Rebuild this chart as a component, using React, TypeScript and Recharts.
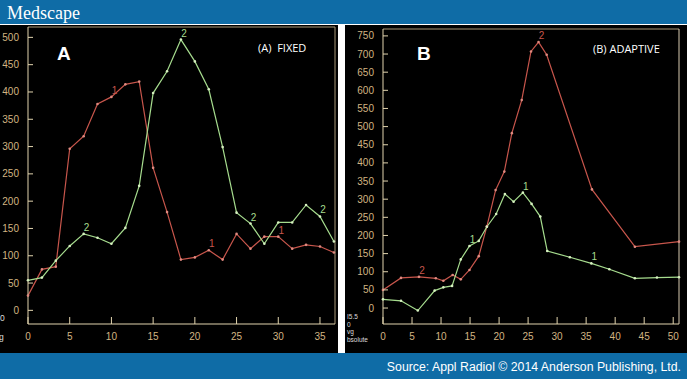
import React from "react";
import { LineChart, Line, XAxis, YAxis, ReferenceLine } from "recharts";

// Panel A (fixed): both curves share the same sampling times
const aTimes = [0, 1.67, 3.33, 5, 6.67, 8.33, 10, 11.67, 13.33, 15, 16.67, 18.33, 20, 21.67, 23.33, 25, 26.67, 28.33, 30, 31.67, 33.33, 35, 36.67];
const aCurve1 = [27, 75, 80, 296, 319, 378, 391, 414, 419, 261, 180, 93, 97, 110, 93, 140, 113, 135, 135, 113, 120, 117, 106];
const aCurve2 = [55, 60, 91, 118, 140, 133, 122, 151, 228, 398, 438, 496, 456, 405, 299, 179, 159, 122, 161, 161, 193, 172, 126];
const aCurve1Labels = [6, 13, 18];
const aCurve2Labels = [4, 11, 16, 21];
const aXTicks = [0, 5, 10, 15, 20, 25, 30, 35];
const aYTicks = [0, 50, 100, 150, 200, 250, 300, 350, 400, 450, 500];

// Panel B (adaptive): irregular sampling, one time list per curve
const bTimes2 = [0, 3.1, 6.2, 9.1, 10.4, 12, 13.4, 14.9, 16.5, 17.9, 19.4, 20.9, 22.2, 23.9, 25.5, 26.8, 28.2, 36, 43.4, 51];
const bCurve2 = [50, 83, 86, 82, 75, 91, 79, 105, 143, 225, 325, 376, 482, 573, 707, 733, 698, 327, 169, 183];
const bTimes1 = [0, 3.1, 6, 8.9, 10.4, 11.9, 13.4, 14.9, 16.5, 17.9, 19.5, 21, 22.5, 24.1, 25.6, 27.1, 28.3, 32.2, 35.9, 39, 43.4, 47.2, 51];
const bCurve1 = [24, 20, -7, 48, 57, 61, 134, 171, 185, 224, 259, 314, 293, 318, 287, 252, 157, 140, 123, 107, 82, 84, 85];
const bCurve2Labels = [2, 15];
const bCurve1Labels = [7, 13, 18];
const bXTicks = [0, 5, 10, 15, 20, 25, 30, 35, 40, 45, 50];
const bYTicks = [0, 50, 100, 150, 200, 250, 300, 350, 400, 450, 500, 550, 600, 650, 700, 750];

// leftover captions cut off at the bottom-left of each panel
const aStub = ["0", "g"];
const bStub = ["I5.5", "0", "vg", "bsolute"];

const RED = "#c8564c";
const GREEN = "#a6dc8e";
const TICK_TEXT = "#d2b482";
const AXIS = "#e2d4ae";
const FRAME = "#a89878";
const BLUE = "#0f6ca6";

const dataA = aTimes.map((t, i) => ({ t, c1: aCurve1[i], c2: aCurve2[i] }));
const dataB2 = bTimes2.map((t, i) => ({ t, v: bCurve2[i] }));
const dataB1 = bTimes1.map((t, i) => ({ t, v: bCurve1[i] }));

const YTick = (p: any) => (
  <g>
    <line x1={p.x} x2={p.x + 5} y1={p.y} y2={p.y} stroke={AXIS} strokeWidth={1} />
    <text x={p.x - 9} y={p.y} dy={3.5} textAnchor="end" fill={TICK_TEXT} fontSize={10} fontFamily="Liberation Sans, Arial, sans-serif">
      {p.payload.value}
    </text>
  </g>
);

const XTick = (p: any) => (
  <g>
    <line x1={p.x} x2={p.x} y1={p.y} y2={p.y - 7} stroke={AXIS} strokeWidth={1} />
    <text x={p.x} y={p.y + 16} textAnchor="middle" fill={TICK_TEXT} fontSize={10} fontFamily="Liberation Sans, Arial, sans-serif">
      {p.payload.value}
    </text>
  </g>
);

const curveLabel = (idx: number[], text: string, color: string) => (p: any) =>
  idx.includes(p.index) ? (
    <text x={p.x + 3} y={p.y - 3} textAnchor="middle" fill={color} fontSize={10} fontFamily="Liberation Sans, Arial, sans-serif">
      {text}
    </text>
  ) : (
    <g />
  );

const dot = (color: string) => ({ r: 1.3, fill: color, stroke: "none" });

const PanelA = () => (
  <LineChart width={338} height={328} data={dataA} margin={{ top: 2, right: 3, bottom: 0, left: 0 }}>
    <XAxis dataKey="t" type="number" domain={[0, 36.8]} ticks={aXTicks} height={29} axisLine={{ stroke: AXIS }} tickLine={false} tickSize={0} tickMargin={0} tick={(p: any) => <XTick {...p} />} interval={0} />
    <YAxis type="number" domain={[-25, 519]} ticks={aYTicks} width={28} axisLine={{ stroke: AXIS }} tickLine={false} tickSize={0} tickMargin={0} tick={(p: any) => <YTick {...p} />} interval={0} />
    <ReferenceLine y={519} stroke={FRAME} ifOverflow="visible" />
    <ReferenceLine x={36.8} stroke={FRAME} ifOverflow="visible" />
    <Line dataKey="c1" stroke={RED} strokeWidth={1.2} dot={dot("#e08a80")} isAnimationActive={false} label={curveLabel(aCurve1Labels, "1", RED)} />
    <Line dataKey="c2" stroke={GREEN} strokeWidth={1.2} dot={dot("#d6f0c0")} isAnimationActive={false} label={curveLabel(aCurve2Labels, "2", GREEN)} />
  </LineChart>
);

const PanelB = () => (
  <LineChart width={342} height={328} margin={{ top: 4, right: 8, bottom: 0, left: 0 }}>
    <XAxis dataKey="t" type="number" domain={[0, 51]} ticks={bXTicks} height={29} axisLine={{ stroke: AXIS }} tickLine={false} tickSize={0} tickMargin={0} tick={(p: any) => <XTick {...p} />} interval={0} />
    <YAxis type="number" domain={[-44, 769]} ticks={bYTicks} width={38} axisLine={{ stroke: AXIS }} tickLine={false} tickSize={0} tickMargin={0} tick={(p: any) => <YTick {...p} />} interval={0} />
    <ReferenceLine y={769} stroke={FRAME} ifOverflow="visible" />
    <ReferenceLine x={51} stroke="#d8cab0" ifOverflow="visible" />
    <Line data={dataB2} dataKey="v" stroke={RED} strokeWidth={1.2} dot={dot("#e08a80")} isAnimationActive={false} label={curveLabel(bCurve2Labels, "2", RED)} />
    <Line data={dataB1} dataKey="v" stroke={GREEN} strokeWidth={1.2} dot={dot("#d6f0c0")} isAnimationActive={false} label={curveLabel(bCurve1Labels, "1", GREEN)} />
  </LineChart>
);

export default function App() {
  return (
    <div style={{ position: "absolute", left: 0, top: 0, width: 687, height: 379, background: "#fff", overflow: "hidden" }}>
      <div style={{ position: "absolute", left: 0, top: 0, width: 687, height: 24, background: BLUE }} />
      <div style={{ position: "absolute", left: 0, top: 25, width: 338, height: 328, background: "#000" }}>
        <PanelA />
      </div>
      <div style={{ position: "absolute", left: 345, top: 25, width: 342, height: 328, background: "#000" }}>
        <PanelB />
      </div>
      <div style={{ position: "absolute", left: 0, top: 353, width: 687, height: 26, background: BLUE }} />
      <svg width={687} height={379} style={{ position: "absolute", left: 0, top: 0, pointerEvents: "none" }}>
        <text x={7} y={19} fill="#fff" fontSize={18} fontFamily="Liberation Serif, serif">Medscape</text>
        <text x={57} y={60} fill="#fff" fontSize={19} fontWeight="bold" fontFamily="Liberation Sans, Arial, sans-serif">A</text>
        <text x={258} y={52} fill="#fff" fontSize={11} fontFamily="Open Sans, sans-serif" xmlSpace="preserve">(A)  FIXED</text>
        <text x={417} y={60} fill="#fff" fontSize={19} fontWeight="bold" fontFamily="Liberation Sans, Arial, sans-serif">B</text>
        <text x={593} y={53} fill="#fff" fontSize={11} fontFamily="Open Sans, sans-serif">(B) ADAPTIVE</text>
        <g fill="#ddd" fontSize={8.5} fontFamily="Liberation Sans, Arial, sans-serif">
          <text x={0} y={321}>{aStub[0]}</text>
          <text x={-1} y={340}>{aStub[1]}</text>
        </g>
        <g fill="#ddd" fontSize={6.5} fontFamily="Liberation Sans, Arial, sans-serif">
          {bStub.map((s, i) => (
            <text key={s + i} x={347} y={319 + i * 7.5}>{s}</text>
          ))}
        </g>
        <text x={681} y={371} textAnchor="end" fill="#fff" fontSize={12.3} fontFamily="Liberation Sans, Arial, sans-serif">Source: Appl Radiol © 2014 Anderson Publishing, Ltd.</text>
      </svg>
    </div>
  );
}
